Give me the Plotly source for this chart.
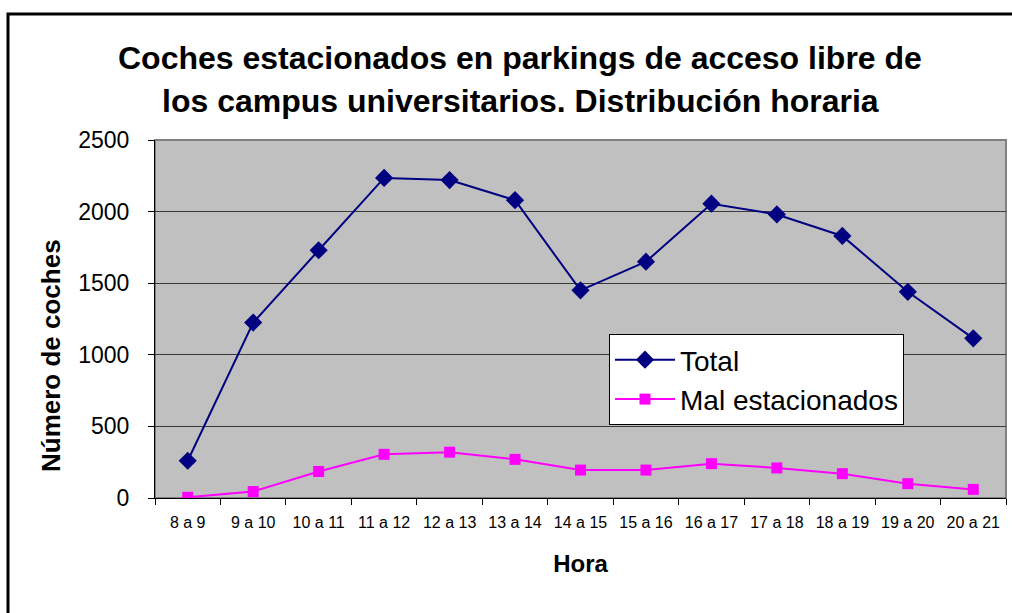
import plotly.graph_objects as go

categories = ["8 a 9", "9 a 10", "10 a 11", "11 a 12", "12 a 13", "13 a 14", "14 a 15",
              "15 a 16", "16 a 17", "17 a 18", "18 a 19", "19 a 20", "20 a 21"]
total = [260, 1225, 1730, 2235, 2220, 2080, 1450, 1650, 2055, 1980, 1830, 1440, 1115]
mal_estacionados = [5, 45, 185, 305, 320, 270, 195, 195, 240, 210, 170, 100, 60]
y_ticks = [0, 500, 1000, 1500, 2000, 2500]

FONT = "Liberation Sans, Arial, sans-serif"

fig = go.Figure()
fig.add_trace(go.Scatter(
    x=categories, y=total, name="Total", mode="lines+markers",
    line=dict(color="#000080", width=2),
    marker=dict(symbol="diamond", size=14, color="#000080"),
    legendgroup="a",
))
fig.add_trace(go.Scatter(
    x=categories, y=mal_estacionados, name="Mal estacionados", mode="lines+markers",
    line=dict(color="#FF00FF", width=2),
    marker=dict(symbol="square", size=11, color="#FF00FF"),
    legendgroup="b",
))

W, H = 1012, 613
L, R, T, B = 155, 6, 140, 115
pw, ph = W - L - R, H - T - B

def px(x):
    return (x - L) / pw

def py(y):
    return (H - B - y) / ph

fig.update_layout(
    width=W, height=H,
    margin=dict(l=L, r=R, t=T, b=B, autoexpand=False),
    paper_bgcolor="white",
    plot_bgcolor="#C0C0C0",
    font=dict(family=FONT, color="black"),
    showlegend=True,
    legend=dict(
        x=px(609), y=py(334), xanchor="left", yanchor="top",
        bgcolor="white", bordercolor="black", borderwidth=1,
        font=dict(size=28, family=FONT),
        traceorder="grouped", tracegroupgap=0,
        itemwidth=60,
    ),
    xaxis=dict(
        type="category", range=[-0.5, 12.5], automargin=False,
        showline=True, linecolor="black", linewidth=1,
        ticks="outside", tickson="boundaries", ticklen=6, tickcolor="black",
        tickfont=dict(size=16, family=FONT), ticklabelstandoff=10, tickangle=0,
        showgrid=False, mirror=False,
        title=dict(text="<b>Hora</b>", font=dict(size=24, family=FONT), standoff=24),
    ),
    yaxis=dict(
        range=[0, 2500], tickvals=y_ticks, automargin=False,
        showline=True, linecolor="black", linewidth=1,
        ticks="outside", ticklen=6, tickcolor="black",
        tickfont=dict(size=23, family=FONT), ticklabelstandoff=14,
        showgrid=True, gridcolor="#3a3a3a", gridwidth=1,
        zeroline=False,
    ),
)

# y-axis title
fig.add_annotation(text="<b>Número de coches</b>", textangle=-90,
                   xref="paper", yref="paper", x=px(51), y=py(356), showarrow=False,
                   xanchor="center", yanchor="middle",
                   font=dict(size=26, family=FONT, color="black"))

# title lines
fig.add_annotation(text="<b>Coches estacionados en parkings de acceso libre de</b>",
                   xref="paper", yref="paper", x=px(520), y=py(58), showarrow=False,
                   xanchor="center", yanchor="middle",
                   font=dict(size=32, family=FONT, color="black"))
fig.add_annotation(text="<b>los campus universitarios. Distribución horaria</b>",
                   xref="paper", yref="paper", x=px(520), y=py(101), showarrow=False,
                   xanchor="center", yanchor="middle",
                   font=dict(size=32, family=FONT, color="black"))

# plot-area gray border
fig.add_shape(type="rect", xref="paper", yref="paper", x0=0, x1=1, y0=0, y1=1,
              line=dict(color="#808080", width=2), layer="below")
# outer chart border
fig.add_shape(type="rect", xref="paper", yref="paper",
              x0=px(8), x1=px(1030), y0=py(640), y1=py(14),
              line=dict(color="black", width=3))

fig.write_html(
    "out.html",
    config={"displayModeBar": False},
    post_script="document.body.style.margin='0px';document.body.style.overflow='hidden';"
                "document.documentElement.style.overflow='hidden';",
)
